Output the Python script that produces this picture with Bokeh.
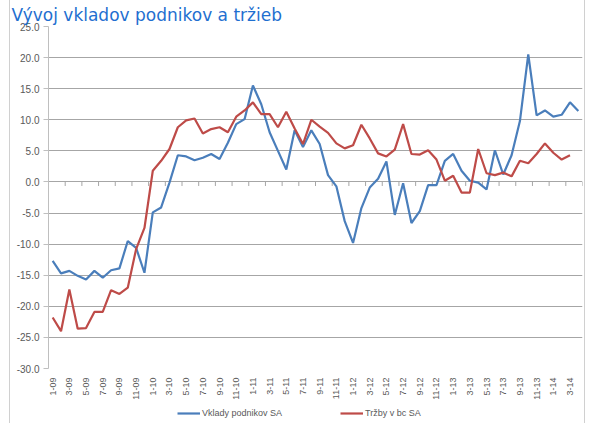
import math
from bokeh.plotting import figure
from bokeh.layouts import column
from bokeh.models import (Range1d, FixedTicker, NumeralTickFormatter, Legend, LegendItem)
from bokeh.embed import file_html
from bokeh.resources import INLINE

title = "Vývoj vkladov podnikov a tržieb"

months = ["1-09", "2-09", "3-09", "4-09", "5-09", "6-09", "7-09", "8-09", "9-09", "10-09", "11-09", "12-09",
          "1-10", "2-10", "3-10", "4-10", "5-10", "6-10", "7-10", "8-10", "9-10", "10-10", "11-10", "12-10",
          "1-11", "2-11", "3-11", "4-11", "5-11", "6-11", "7-11", "8-11", "9-11", "10-11", "11-11", "12-11",
          "1-12", "2-12", "3-12", "4-12", "5-12", "6-12", "7-12", "8-12", "9-12", "10-12", "11-12", "12-12",
          "1-13", "2-13", "3-13", "4-13", "5-13", "6-13", "7-13", "8-13", "9-13", "10-13", "11-13", "12-13",
          "1-14", "2-14", "3-14", "4-14"]

vklady = [-12.7, -14.7, -14.3, -15.1, -15.7, -14.3, -15.4, -14.2, -13.9, -9.5, -10.6, -14.6,
          -4.9, -4.1, -0.1, 4.3, 4.1, 3.5, 3.9, 4.5, 3.7, 6.3, 9.3, 10.1,
          15.5, 12.5, 8.0, 5.0, 2.0, 8.3, 5.6, 8.3, 6.1, 1.1, -0.7, -6.3,
          -9.8, -4.2, -0.9, 0.5, 3.3, -5.3, -0.2, -6.6, -4.7, -0.5, -0.5, 3.4,
          4.5, 1.8, 0.2, -0.1, -1.2, 5.1, 1.2, 4.3, 9.8, 20.5, 10.7, 11.5, 10.5, 10.8, 12.8, 11.4]

trzby = [-21.8, -24.0, -17.3, -23.6, -23.5, -20.9, -20.9, -17.4, -18.0, -17.0, -10.8, -7.4,
         1.8, 3.4, 5.3, 8.8, 9.9, 10.2, 7.8, 8.5, 8.8, 8.0, 10.5, 11.5,
         12.8, 10.9, 10.9, 8.8, 11.3, 8.6, 6.1, 10.0, 8.9, 7.9, 6.2, 5.4,
         5.9, 9.2, 7.0, 4.6, 4.1, 5.2, 9.3, 4.5, 4.4, 5.1, 3.6, 0.2,
         1.0, -1.7, -1.7, 5.3, 1.4, 1.1, 1.5, 0.9, 3.4, 3.0, 4.5, 6.2, 4.7, 3.6, 4.3]

y_ticks = [-30, -25, -20, -15, -10, -5, 0, 5, 10, 15, 20, 25]
series_names = ["Vklady podnikov SA", "Tržby v bc SA"]
colors = ["#4A7EBB", "#BE4B48"]

n = len(months)
xs = list(range(n))
label_ticks = xs[::2]
boundary_ticks = [i + 1.5 for i in xs[::2]]

FONT = "Liberation Sans"
GRID = "#a6a6a6"
TXT = "#595959"
BORDER = "#d0d0d0"

p = figure(width=576, height=403, output_backend="svg", toolbar_location=None,
           x_range=Range1d(-0.5, n - 0.5), y_range=Range1d(y_ticks[0], y_ticks[-1]),
           min_border_left=39, min_border_right=3, min_border_top=26, min_border_bottom=35)
p.margin = (0, 0, 0, 9)
p.outline_line_color = None
p.background_fill_color = "white"
p.border_fill_color = None
p.styles = {"box-shadow": f"inset 1px 0 0 {BORDER}, inset -1px 0 0 {BORDER}"}

# title (top-left, above the plot area)
p.title.text = title
p.title.text_font = "DejaVu Sans"
p.title.text_font_size = "17px"
p.title.text_font_style = "normal"
p.title.text_color = "#1f6fd0"
p.title.align = "left"
p.title.offset = -37
p.title.standoff = 4

# y axis
p.yaxis.ticker = FixedTicker(ticks=y_ticks)
p.yaxis.formatter = NumeralTickFormatter(format="0.0")
p.yaxis.axis_line_color = "#bfbfbf"
p.yaxis.major_tick_line_color = "#bfbfbf"
p.yaxis.major_tick_out = 5
p.yaxis.major_tick_in = 0
p.yaxis.minor_tick_line_color = None
p.yaxis.major_label_standoff = 4
p.yaxis.major_label_text_font = FONT
p.yaxis.major_label_text_font_size = "10px"
p.yaxis.major_label_text_color = TXT

# x axis (labels only)
p.xaxis.ticker = FixedTicker(ticks=label_ticks)
p.xaxis.major_label_overrides = {i: months[i] for i in label_ticks}
p.xaxis.major_label_orientation = math.pi / 2
p.xaxis.axis_line_color = None
p.xaxis.major_tick_line_color = None
p.xaxis.major_tick_out = 0
p.xaxis.major_tick_in = 0
p.xaxis.minor_tick_line_color = None
p.xaxis.minor_tick_out = 0
p.xaxis.major_label_standoff = 9
p.xaxis.major_label_text_font = FONT
p.xaxis.major_label_text_font_size = "9px"
p.xaxis.major_label_text_color = TXT

p.xgrid.visible = False
p.ygrid.ticker = FixedTicker(ticks=y_ticks)
p.ygrid.grid_line_color = GRID

# tick marks on the zero line
p.segment(x0=boundary_ticks, y0=[0] * len(boundary_ticks), x1=boundary_ticks,
          y1=[-0.65] * len(boundary_ticks), line_color=GRID, line_width=1)

p.line(xs, vklady, line_color=colors[0], line_width=2.2)
p.line(xs[:len(trzby)], trzby, line_color=colors[1], line_width=2.2)

# legend strip below the chart
lf = figure(width=576, height=20, output_backend="svg", toolbar_location=None,
            x_axis_type=None, y_axis_type=None, x_range=Range1d(0, 1), y_range=Range1d(0, 1),
            min_border=0)
lf.margin = (0, 0, 0, 9)
lf.outline_line_color = None
lf.background_fill_color = None
lf.border_fill_color = None
lf.xgrid.visible = False
lf.ygrid.visible = False
lf.styles = {"box-shadow": f"inset 1px 0 0 {BORDER}, inset -1px 0 0 {BORDER}"}
lr1 = lf.line([-2, -1], [-2, -1], line_color=colors[0], line_width=2.2)
lr2 = lf.line([-2, -1], [-2, -1], line_color=colors[1], line_width=2.2)
legend = Legend(items=[LegendItem(label=series_names[0], renderers=[lr1]),
                       LegendItem(label=series_names[1], renderers=[lr2])],
                orientation="horizontal", location=(129, 4),
                glyph_width=23, glyph_height=12, label_height=12, label_standoff=2,
                spacing=58, padding=0, margin=0,
                border_line_color=None, background_fill_alpha=0,
                label_text_font=FONT, label_text_font_size="9px", label_text_color=TXT)
lf.add_layout(legend)

layout = column(p, lf, spacing=0)
open("out.html", "w").write(file_html(layout, INLINE))
